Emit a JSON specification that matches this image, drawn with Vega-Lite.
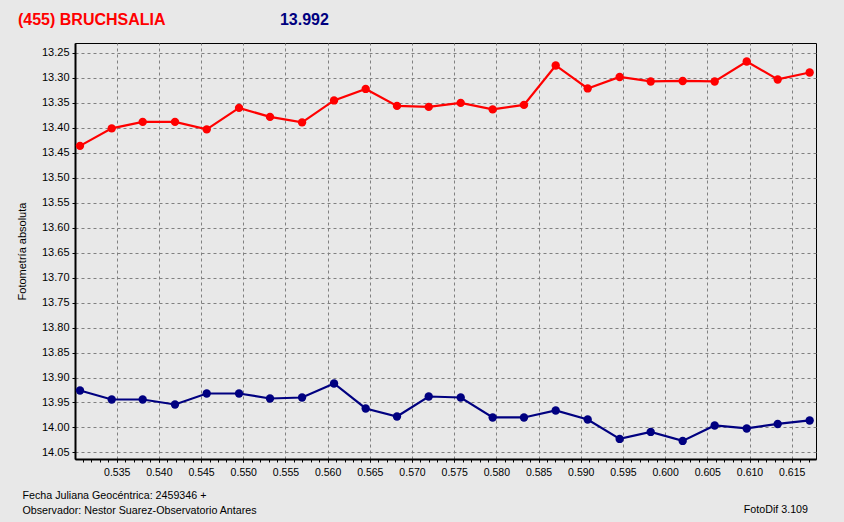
{
  "$schema": "https://vega.github.io/schema/vega-lite/v6.json",
  "width": 741,
  "height": 416,
  "autosize": {"type": "none"},
  "padding": {"left": 75, "top": 43, "right": 28, "bottom": 63},
  "background": "#e8e8e8",
  "config": {
    "font": "Liberation Sans",
    "view": {"stroke": "#000000", "strokeWidth": 1, "fill": "#e8e8e8"},
    "axis": {
      "labelFont": "Liberation Sans",
      "labelColor": "#000000",
      "labelFontSize": 11,
      "titleFont": "Liberation Sans",
      "titleColor": "#000000",
      "titleFontWeight": "normal",
      "domainColor": "#000000",
      "domainWidth": 2,
      "tickColor": "#000000",
      "tickSize": 3,
      "gridColor": "#808080",
      "gridDash": [3, 3],
      "gridOpacity": 1,
      "gridWidth": 1
    }
  },
  "datasets": {
    "fot": [
      {"jd": 0.53065, "mag": 13.436, "serie": "(455) Bruchsalia"},
      {"jd": 0.53441, "mag": 13.401, "serie": "(455) Bruchsalia"},
      {"jd": 0.53808, "mag": 13.388, "serie": "(455) Bruchsalia"},
      {"jd": 0.54191, "mag": 13.388, "serie": "(455) Bruchsalia"},
      {"jd": 0.54567, "mag": 13.403, "serie": "(455) Bruchsalia"},
      {"jd": 0.54950, "mag": 13.360, "serie": "(455) Bruchsalia"},
      {"jd": 0.55317, "mag": 13.378, "serie": "(455) Bruchsalia"},
      {"jd": 0.55697, "mag": 13.389, "serie": "(455) Bruchsalia"},
      {"jd": 0.56076, "mag": 13.345, "serie": "(455) Bruchsalia"},
      {"jd": 0.56451, "mag": 13.322, "serie": "(455) Bruchsalia"},
      {"jd": 0.56822, "mag": 13.356, "serie": "(455) Bruchsalia"},
      {"jd": 0.57198, "mag": 13.358, "serie": "(455) Bruchsalia"},
      {"jd": 0.57577, "mag": 13.350, "serie": "(455) Bruchsalia"},
      {"jd": 0.57956, "mag": 13.363, "serie": "(455) Bruchsalia"},
      {"jd": 0.58327, "mag": 13.354, "serie": "(455) Bruchsalia"},
      {"jd": 0.58703, "mag": 13.275, "serie": "(455) Bruchsalia"},
      {"jd": 0.59082, "mag": 13.321, "serie": "(455) Bruchsalia"},
      {"jd": 0.59461, "mag": 13.298, "serie": "(455) Bruchsalia"},
      {"jd": 0.59829, "mag": 13.307, "serie": "(455) Bruchsalia"},
      {"jd": 0.60208, "mag": 13.306, "serie": "(455) Bruchsalia"},
      {"jd": 0.60587, "mag": 13.307, "serie": "(455) Bruchsalia"},
      {"jd": 0.60967, "mag": 13.267, "serie": "(455) Bruchsalia"},
      {"jd": 0.61334, "mag": 13.303, "serie": "(455) Bruchsalia"},
      {"jd": 0.61713, "mag": 13.289, "serie": "(455) Bruchsalia"},
      {"jd": 0.53065, "mag": 13.926, "serie": "Comparación"},
      {"jd": 0.53441, "mag": 13.944, "serie": "Comparación"},
      {"jd": 0.53808, "mag": 13.944, "serie": "Comparación"},
      {"jd": 0.54191, "mag": 13.954, "serie": "Comparación"},
      {"jd": 0.54567, "mag": 13.932, "serie": "Comparación"},
      {"jd": 0.54950, "mag": 13.932, "serie": "Comparación"},
      {"jd": 0.55317, "mag": 13.942, "serie": "Comparación"},
      {"jd": 0.55697, "mag": 13.940, "serie": "Comparación"},
      {"jd": 0.56076, "mag": 13.912, "serie": "Comparación"},
      {"jd": 0.56451, "mag": 13.962, "serie": "Comparación"},
      {"jd": 0.56822, "mag": 13.978, "serie": "Comparación"},
      {"jd": 0.57198, "mag": 13.938, "serie": "Comparación"},
      {"jd": 0.57577, "mag": 13.940, "serie": "Comparación"},
      {"jd": 0.57956, "mag": 13.980, "serie": "Comparación"},
      {"jd": 0.58327, "mag": 13.980, "serie": "Comparación"},
      {"jd": 0.58703, "mag": 13.966, "serie": "Comparación"},
      {"jd": 0.59082, "mag": 13.984, "serie": "Comparación"},
      {"jd": 0.59461, "mag": 14.023, "serie": "Comparación"},
      {"jd": 0.59829, "mag": 14.009, "serie": "Comparación"},
      {"jd": 0.60208, "mag": 14.027, "serie": "Comparación"},
      {"jd": 0.60587, "mag": 13.996, "serie": "Comparación"},
      {"jd": 0.60967, "mag": 14.002, "serie": "Comparación"},
      {"jd": 0.61334, "mag": 13.993, "serie": "Comparación"},
      {"jd": 0.61713, "mag": 13.986, "serie": "Comparación"}
    ]
  },
  "layer": [
    {
      "data": {"name": "fot"},
      "mark": {"type": "line", "strokeWidth": 2.2, "point": {"filled": true, "size": 70, "opacity": 1}},
      "encoding": {
        "x": {
          "field": "jd",
          "type": "quantitative",
          "scale": {"domain": [0.530058, 0.61788], "nice": false, "zero": false},
          "axis": {
            "orient": "bottom",
            "values": [0.535, 0.54, 0.545, 0.55, 0.555, 0.56, 0.565, 0.57, 0.575, 0.58, 0.585, 0.59, 0.595, 0.6, 0.605, 0.61, 0.615],
            "format": ".3f",
            "labelFontSize": 10.5,
            "labelPadding": 5,
            "labelFlush": false,
            "labelOverlap": false,
            "grid": true,
            "title": ["Fecha Juliana Geocéntrica: 2459346 +", "Observador: Nestor Suarez-Observatorio Antares"],
            "titleAlign": "left",
            "titleAnchor": "start",
            "titleX": -53,
            "titleY": 39,
            "titleBaseline": "alphabetic",
            "titleFontSize": 10.7,
            "titleLineHeight": 15
          }
        },
        "y": {
          "field": "mag",
          "type": "quantitative",
          "scale": {"domain": [13.23, 14.0632], "reverse": true, "nice": false, "zero": false},
          "axis": {
            "orient": "left",
            "values": [13.25, 13.3, 13.35, 13.4, 13.45, 13.5, 13.55, 13.6, 13.65, 13.7, 13.75, 13.8, 13.85, 13.9, 13.95, 14.0, 14.05],
            "format": ".2f",
            "labelPadding": 3,
            "labelFlush": false,
            "labelOverlap": false,
            "grid": true,
            "title": "Fotometría absoluta",
            "titleFontSize": 11,
            "titleX": -53,
            "titleY": 208,
            "titleAngle": -90,
            "titleAlign": "center",
            "titleBaseline": "middle"
          }
        },
        "color": {
          "field": "serie",
          "type": "nominal",
          "scale": {"domain": ["(455) Bruchsalia", "Comparación"], "range": ["#ff0000", "#000080"]},
          "legend": null
        }
      }
    },
    {
      "data": {"name": "fot"},
      "mark": {"type": "tick", "opacity": 0},
      "encoding": {
        "x": {
          "field": "jd",
          "type": "quantitative",
          "scale": {"domain": [0.530058, 0.61788], "nice": false, "zero": false},
          "axis": {
            "orient": "bottom",
            "values": [0.531, 0.532, 0.533, 0.534, 0.535, 0.536, 0.537, 0.538, 0.539, 0.54, 0.541, 0.542, 0.543, 0.544, 0.545, 0.546, 0.547, 0.548, 0.549, 0.55, 0.551, 0.552, 0.553, 0.554, 0.555, 0.556, 0.557, 0.558, 0.559, 0.56, 0.561, 0.562, 0.563, 0.564, 0.565, 0.566, 0.567, 0.568, 0.569, 0.57, 0.571, 0.572, 0.573, 0.574, 0.575, 0.576, 0.577, 0.578, 0.579, 0.58, 0.581, 0.582, 0.583, 0.584, 0.585, 0.586, 0.587, 0.588, 0.589, 0.59, 0.591, 0.592, 0.593, 0.594, 0.595, 0.596, 0.597, 0.598, 0.599, 0.6, 0.601, 0.602, 0.603, 0.604, 0.605, 0.606, 0.607, 0.608, 0.609, 0.61, 0.611, 0.612, 0.613, 0.614, 0.615, 0.616, 0.617],
            "labels": false,
            "grid": false,
            "domain": false,
            "title": null,
            "tickSize": 3
          }
        }
      }
    },
    {
      "data": {"values": [{"etiqueta": "(455) BRUCHSALIA"}]},
      "mark": {"type": "text", "align": "left", "baseline": "alphabetic", "font": "Liberation Sans", "fontSize": 16, "fontWeight": "bold", "color": "#ff0000"},
      "encoding": {
        "x": {"datum": 0.523302, "type": "quantitative", "scale": {"domain": [0.530058, 0.61788], "nice": false, "zero": false}, "axis": null},
        "y": {"datum": 13.1933, "type": "quantitative", "scale": {"domain": [13.23, 14.0632], "reverse": true, "nice": false, "zero": false}, "axis": null},
        "text": {"field": "etiqueta"}
      }
    },
    {
      "data": {"values": [{"etiqueta": "13.992"}]},
      "mark": {"type": "text", "align": "left", "baseline": "alphabetic", "font": "Liberation Sans", "fontSize": 16, "fontWeight": "bold", "color": "#000080"},
      "encoding": {
        "x": {"datum": 0.55435, "type": "quantitative", "scale": {"domain": [0.530058, 0.61788], "nice": false, "zero": false}, "axis": null},
        "y": {"datum": 13.1933, "type": "quantitative", "scale": {"domain": [13.23, 14.0632], "reverse": true, "nice": false, "zero": false}, "axis": null},
        "text": {"field": "etiqueta"}
      }
    },
    {
      "data": {"values": [{"etiqueta": "FotoDif 3.109"}]},
      "mark": {"type": "text", "align": "right", "baseline": "alphabetic", "font": "Liberation Sans", "fontSize": 10.7, "color": "#000000"},
      "encoding": {
        "x": {"datum": 0.61693, "type": "quantitative", "scale": {"domain": [0.530058, 0.61788], "nice": false, "zero": false}, "axis": null},
        "y": {"datum": 14.1707, "type": "quantitative", "scale": {"domain": [13.23, 14.0632], "reverse": true, "nice": false, "zero": false}, "axis": null},
        "text": {"field": "etiqueta"}
      }
    }
  ],
  "resolve": {"axis": {"x": "independent", "y": "independent"}}
}
